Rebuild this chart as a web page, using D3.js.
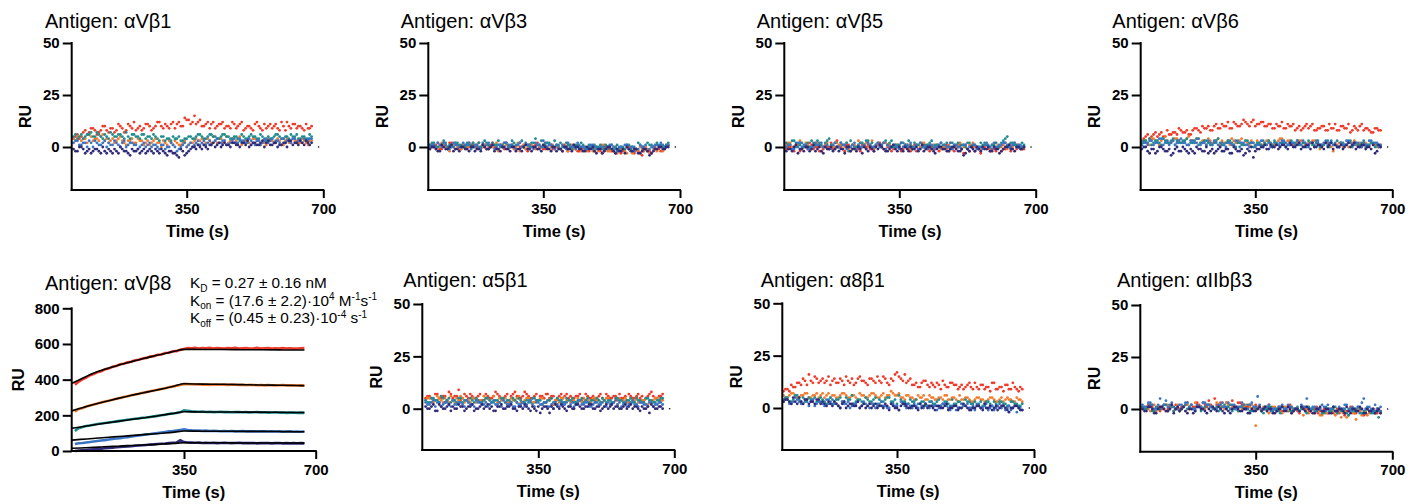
<!DOCTYPE html>
<html><head><meta charset="utf-8">
<script src="https://cdn.jsdelivr.net/npm/d3@7"></script>
<style>
body{margin:0;background:#fff;}
svg text{font-family:"Liberation Sans",Arial,sans-serif;fill:#000;}
</style></head><body>
<svg id="c" width="1410" height="504"></svg>
<script>
// ---------- data ----------
const times = [60,70,80,90,100,110,120,130,140,150,160,170,180,190,200,210,220,230,240,250,260,270,280,290,300,310,320,330,340,350,360,370,379,389,399,409,418,428,438,447,457,467,477,486,496,506,515,525,535,544,554,564,574,583,593,603,612,622,632,641,651,661,670];
const times2 = [65,75,85,95,105,115,125,135,145,155,165,175,185,195,205,215,225,235,245,255,265,275,285,295,305,315,325,335,345,355,365,374,384,394,404,413,423,433,442,452,462,472,481,491,501,510,520,530,539,549,559,569,578,588,598,607,617,627,636,646,656,665];
const seriesColors = ["#ef3a2a","#f47a2c","#1f8c8e","#3c74c4","#2f2b79"];
const antigens = ["αVβ1","αVβ3","αVβ5","αVβ6","αVβ8","α5β1","α8β1","αIIbβ3"];
const ruTicks = [0,25,50];
const ruTicksVB8 = [0,200,400,600,800];
const timeTicks = [350,700];
const endDot = [688,0];

const avb1 = [
 [4,6,5,8,7,9,6,8,10,7,9,8,10,7,11,9,8,10,9,11,8,10,12,9,10,11,9,12,10,13,11,15,12,10,11,9,12,10,11,9,10,12,9,11,8,10,9,11,10,8,9,11,10,9,12,8,10,11,9,10,8,9,10],
 [4,5,3,4,6,3,4,5,3,2,4,3,5,2,3,4,2,3,1,3,2,4,2,3,1,2,3,1,2,0,2,3,1,4,2,3,5,2,4,3,2,4,3,5,2,3,1,4,3,2,1,3,2,4,1,3,2,4,3,2,3,1,3],
 [5,4,6,5,6,5,7,5,6,4,6,5,6,4,5,6,5,4,6,5,4,5,3,5,4,3,4,5,3,4,5,4,6,5,4,6,5,4,5,6,5,4,5,3,5,4,6,5,4,5,3,4,5,6,4,5,4,5,6,4,5,4,5],
 [2,3,1,2,3,0,2,1,3,2,1,2,0,3,1,2,1,0,2,1,0,1,-1,1,0,2,0,-1,1,0,2,1,3,2,1,3,2,4,2,3,1,3,2,4,3,2,3,1,3,2,4,3,2,3,4,2,3,4,2,3,4,3,4],
 [-1,-2,0,-3,-1,-2,-1,-3,-2,-1,-3,-2,0,-2,-3,-1,-2,-3,-1,-2,-2,-1,-3,-2,-4,-2,-3,-5,-2,-3,-1,0,1,-1,0,1,2,1,0,2,1,2,1,0,2,3,1,2,1,3,2,1,2,0,1,2,3,1,2,3,1,2,2]
];
const avb1b = [
 [5,4,7,6,9,8,7,10,8,9,7,11,9,8,10,12,9,8,11,10,9,12,10,11,9,12,11,10,14,13,12,11,13,10,12,11,9,11,12,10,9,11,10,12,9,10,8,12,9,11,10,9,11,8,10,12,9,11,10,9,11,9],
 [3,5,4,2,5,4,3,6,4,3,2,4,3,1,3,2,4,3,2,1,3,2,0,2,3,1,2,1,3,1,2,4,3,1,4,2,3,4,2,5,3,2,4,1,3,2,4,3,1,2,4,3,2,3,1,4,2,3,2,4,2,3],
 [6,5,4,6,7,5,6,4,5,7,5,6,5,7,4,6,5,6,4,5,6,4,5,3,4,5,4,3,4,5,4,5,6,4,5,6,5,4,6,5,4,5,4,6,4,5,5,4,6,4,5,4,6,5,4,5,6,5,4,5,4,6],
 [3,1,2,0,2,3,1,2,0,1,3,1,2,0,2,1,-1,1,0,2,1,0,1,-1,0,1,-2,0,2,1,0,2,1,3,2,1,3,2,3,1,2,4,2,3,2,4,2,3,1,3,2,4,3,2,4,3,2,4,3,2,3,4],
 [-2,0,-1,-2,-3,-1,-2,0,-3,-2,-1,-3,-1,-2,-4,-2,-1,-2,-3,-1,-3,-2,-1,-3,-2,-3,-4,-1,-4,-2,0,-1,0,1,-1,1,0,2,1,1,0,2,1,2,1,0,2,1,2,0,3,1,2,1,2,0,3,2,1,2,3,1]
];
const avb3 = [
 [1,0,2,-1,1,2,0,1,-1,0,2,1,0,-1,1,0,2,0,1,-1,0,1,-1,0,1,-2,0,1,0,-1,0,1,-1,0,-2,0,1,-1,-2,0,-1,-2,-1,0,-2,-1,0,-2,-3,-1,-2,0,-1,-3,-2,-4,-1,-2,0,-1,-2,0,1],
 [0,1,-1,2,0,-2,1,0,-1,1,0,2,-1,0,1,-1,0,2,1,0,-1,1,0,-2,1,0,1,-1,0,1,2,0,-1,0,1,-1,0,-1,1,-2,0,-1,-2,0,-1,1,-2,-1,0,-2,-1,-3,0,-1,-2,-1,0,-3,-1,-2,0,-1,1],
 [1,2,0,1,2,1,0,2,1,0,1,2,1,0,3,1,2,1,0,2,1,3,1,2,0,1,2,4,1,0,2,1,3,1,0,2,1,0,1,2,0,1,-1,0,1,0,-1,1,0,-1,0,1,-1,0,2,0,-1,1,0,2,1,0,2],
 [0,1,2,0,1,-1,2,1,0,1,2,0,1,-1,0,2,1,0,1,2,0,1,-1,2,0,1,0,2,1,3,0,1,-1,0,1,-1,0,1,2,0,-1,0,1,-1,0,-2,0,1,-1,0,-1,1,0,-2,-1,0,1,-1,0,1,2,0,1],
 [-1,0,-2,1,-1,0,-2,-1,0,-1,-2,0,-1,-2,0,-1,1,-1,-2,0,-1,0,-2,-1,0,-1,-2,0,-1,1,-1,-2,0,-1,-2,0,-1,1,0,-1,-2,-1,0,-3,-1,-2,0,-1,-3,-2,-1,0,-2,-1,-3,-2,-1,-4,-2,-1,0,-1,0]
];
const avb3b = [
 [0,1,-1,1,0,2,-1,0,1,-1,1,0,2,0,-1,1,0,-1,1,2,0,-1,1,0,-1,1,0,2,0,-1,1,-1,0,-1,1,-2,0,-1,-2,0,-1,0,-2,-1,-3,0,-1,-2,-1,-3,-1,0,-2,-1,-3,-2,-1,-3,0,-1,0,1],
 [1,-1,0,1,-1,0,2,-1,1,0,-1,1,2,0,-1,0,1,-2,0,1,0,-1,2,0,-1,1,0,-1,0,2,-1,1,0,-1,0,-2,1,-1,0,-1,-2,0,-1,-2,1,-1,-2,0,-3,-1,-2,-1,-3,-2,0,-2,-1,-3,-1,0,-2,0],
 [2,0,1,3,0,1,2,1,0,2,1,0,2,1,2,0,1,3,1,2,0,2,1,3,1,0,2,1,3,1,2,0,1,2,0,1,-1,1,0,1,-1,0,1,0,-1,1,0,-1,1,0,-1,1,0,-1,1,0,2,1,-1,1,0,1],
 [1,0,1,2,-1,0,1,0,2,1,-1,1,0,2,1,0,-1,1,0,2,1,0,1,0,2,1,-1,1,0,2,1,0,1,-1,0,2,0,-1,1,0,-1,1,0,-1,0,-1,1,0,-2,0,1,-1,0,-1,1,0,-2,0,1,0,1,0],
 [0,-1,-2,0,-1,1,-1,-2,0,-1,0,-2,-1,1,-1,0,-2,-1,0,-1,-2,0,-1,-2,1,-1,0,-1,-2,0,-1,0,-2,-1,0,-1,-2,0,-1,-2,0,-1,-2,-1,-3,-1,0,-2,-1,-2,-3,-1,-2,-1,-3,-1,-2,-3,-1,0,-1,0]
];
const avb5 = [
 [-1,0,-2,1,-1,0,2,-1,0,-2,1,0,-1,3,0,-2,1,-1,0,-2,0,1,-1,0,2,-1,0,-2,1,0,-1,0,-2,1,-1,0,-1,-2,0,1,-1,0,-2,-1,0,1,-3,-1,0,-2,-1,0,1,-2,-1,0,-2,-1,0,1,-1,0,-1],
 [1,2,0,1,-1,2,0,1,2,0,1,-1,0,2,1,0,-1,1,0,2,1,0,3,1,0,2,1,0,-1,1,0,1,-1,0,1,2,0,-1,1,0,-1,0,1,-1,0,2,0,-1,1,0,-1,0,1,-1,0,1,0,2,1,0,1,-1,0],
 [2,1,3,0,2,1,0,2,3,1,2,4,1,0,2,1,-2,1,0,2,1,3,2,1,0,2,1,3,0,1,2,0,1,2,1,0,1,2,0,1,2,1,0,2,1,0,1,2,0,1,0,1,2,0,1,0,2,4,1,2,1,0,1],
 [0,1,-1,2,0,1,-1,0,1,2,0,-1,1,0,2,1,0,1,-1,0,1,2,0,1,0,2,1,0,1,-1,0,1,2,0,-1,1,0,1,-1,0,2,1,0,-1,1,0,1,-1,0,1,0,-1,1,0,2,0,1,2,0,1,0,1,0],
 [-2,-1,0,-3,-1,0,-2,1,-1,-2,0,-1,-2,0,-1,-3,0,-1,-2,-1,0,-2,-1,0,1,-1,-2,0,-1,0,-2,-1,0,-1,-2,1,-1,0,-2,-1,0,-1,-2,0,-1,-2,-4,-1,0,-2,-1,0,-1,-2,0,-1,-2,0,1,-1,0,-1,0]
];
const avb5b = [
 [0,-1,1,-2,0,-1,1,0,-2,-1,0,2,-1,0,-1,1,-2,0,-1,1,0,-1,-2,1,0,-1,1,-1,0,-2,1,-1,0,-2,0,1,-1,0,-1,-2,0,1,-1,-2,0,-1,1,-2,0,-1,-3,0,-1,1,-2,0,-1,0,-2,1,0,-1],
 [2,0,1,3,0,1,-1,2,1,0,2,1,0,1,-1,2,0,1,3,0,2,1,-1,1,0,2,1,0,1,2,0,1,-1,1,0,2,1,-1,0,1,0,-1,2,0,1,-1,0,1,2,0,-1,1,0,-1,2,0,1,-1,0,2,1,0],
 [1,3,2,1,0,2,3,1,2,0,3,1,2,0,1,2,3,0,1,2,3,1,0,2,1,3,2,0,1,2,1,3,0,1,2,0,1,3,1,0,1,2,0,1,2,1,0,2,1,0,2,1,0,1,2,0,3,5,2,1,0,2],
 [1,-1,0,2,1,-1,0,2,1,0,1,-1,2,0,1,-1,0,2,1,0,-1,1,0,2,1,-1,0,1,0,2,1,0,-1,1,2,0,-1,1,0,1,-1,0,2,1,0,-1,1,0,1,-1,0,2,1,-1,0,1,2,1,0,2,1,0],
 [-1,-2,1,-1,-2,0,-1,-2,0,-3,-1,0,-1,-2,-1,0,-2,-1,0,-3,-1,0,-2,-1,0,-2,-1,1,-2,-1,0,-2,-1,0,-1,-2,0,-1,-3,0,-1,-2,-1,0,-2,-1,-3,-2,-1,0,-2,-1,0,-2,-1,-3,-1,0,-1,-2,0,-1]
];
const avb6 = [
 [3,5,4,6,5,7,5,6,7,6,8,7,6,8,9,7,9,10,8,11,9,10,12,9,11,10,13,11,12,10,11,12,10,11,9,10,12,9,10,11,9,8,10,9,11,8,9,10,8,9,11,8,10,9,7,10,8,11,9,8,7,9,8],
 [2,3,1,4,2,3,5,2,3,4,2,3,5,3,4,2,3,4,2,3,1,2,3,4,2,3,1,2,3,0,2,1,3,2,1,3,4,2,3,1,2,3,1,2,3,2,-1,1,2,0,1,2,0,1,2,3,1,0,2,1,2,0,1],
 [2,3,4,2,3,1,3,2,4,3,2,3,1,2,4,2,3,2,1,3,2,1,3,2,0,2,1,3,2,1,2,0,1,2,3,1,2,0,1,2,3,1,2,3,1,2,0,1,3,2,1,0,2,1,3,2,1,2,0,1,2,1,0],
 [1,2,3,1,2,4,2,1,3,2,4,2,1,3,2,1,2,3,1,2,0,1,2,1,3,0,2,1,2,0,1,3,1,0,2,1,3,2,1,2,3,1,2,0,2,3,1,2,1,3,2,0,1,3,2,1,2,0,1,3,1,2,1],
 [-1,0,-3,-1,-2,0,-2,-1,-3,0,-2,-1,-3,-2,0,-1,-2,-3,-1,-2,0,-2,-1,-3,-1,-2,-4,-1,0,-2,-1,0,-1,1,0,-1,1,0,2,0,1,-1,0,1,2,0,1,-1,0,2,1,0,-1,1,0,2,0,1,-1,0,1,-2,0]
];
const avb6b = [
 [4,6,5,7,6,5,8,6,7,9,7,8,6,9,8,10,9,8,10,9,11,10,9,12,10,11,12,10,13,11,12,10,11,9,11,10,9,11,10,8,10,9,11,10,8,9,10,8,11,9,8,10,9,11,8,9,10,8,9,7,9,8],
 [3,2,4,3,1,4,3,2,4,3,2,4,3,2,4,3,1,3,2,4,3,2,1,3,2,4,3,1,2,3,1,2,3,1,2,4,2,3,2,1,3,2,1,2,3,1,0,2,1,-2,1,2,1,0,2,1,2,1,0,2,1,0],
 [3,2,1,3,2,4,2,3,1,2,3,4,2,3,1,2,3,1,2,4,1,2,3,1,2,1,3,2,0,2,1,2,3,1,2,0,2,1,3,2,1,2,0,2,1,3,1,2,0,1,3,2,1,2,0,2,1,3,1,2,0,1],
 [2,1,3,2,4,1,3,2,1,3,2,1,3,2,4,2,1,2,3,1,2,0,2,1,3,2,1,0,2,1,3,1,2,0,1,2,3,1,2,1,2,3,1,2,0,2,1,3,2,1,0,2,1,3,1,2,0,2,1,3,2,0],
 [0,-2,-1,-3,0,-1,-2,-4,-1,-2,0,-2,-1,-3,-1,-2,0,-2,-3,-1,-2,-1,-3,0,-2,-1,-3,-2,-5,-1,0,1,-1,0,1,0,1,-1,1,0,2,0,1,-1,0,1,0,2,1,-1,0,1,0,2,1,-1,0,1,0,-1,-3,1]
];
const a5b1 = [
 [5,6,4,7,5,6,8,5,6,4,7,5,6,5,7,4,6,5,8,6,5,7,6,8,5,6,7,5,6,4,6,7,5,6,5,7,6,5,4,6,7,5,6,5,4,6,5,7,5,6,4,5,6,7,5,6,5,4,6,8,5,6,7],
 [4,5,3,6,4,5,3,4,5,6,3,4,5,3,4,6,5,3,4,5,4,3,5,4,6,3,5,4,3,4,5,3,4,2,4,5,3,4,5,3,4,5,4,3,5,4,3,5,4,3,2,4,5,3,4,5,3,4,2,4,5,3,4],
 [4,3,5,4,6,3,5,4,3,5,4,3,4,5,3,4,5,3,4,3,5,4,3,4,5,3,4,3,5,4,2,3,4,3,5,4,3,4,5,3,4,3,5,4,3,4,5,3,4,3,5,4,3,4,3,5,4,3,5,4,3,4,5],
 [3,2,4,3,1,3,2,4,2,3,1,3,2,4,3,2,1,3,2,3,4,2,3,1,2,3,2,4,1,3,2,3,1,0,2,3,2,1,3,2,4,2,3,1,3,2,3,1,2,3,2,1,3,2,4,2,3,2,1,3,2,3,2],
 [1,0,2,-1,1,0,2,1,0,1,-1,1,2,0,1,0,2,1,-1,1,0,1,2,0,1,0,1,-1,0,1,0,1,-2,0,1,2,0,1,0,2,1,0,1,2,0,1,0,2,1,0,1,0,2,1,0,1,-1,0,1,2,0,1,0]
];
const a5b1b = [
 [6,5,7,5,6,4,7,6,9,5,6,7,5,6,4,7,5,6,7,5,6,4,7,6,5,8,6,5,7,6,5,7,6,4,6,5,7,6,5,6,4,7,5,6,5,7,4,6,5,6,7,5,4,6,5,7,6,5,7,6,5,6],
 [5,3,4,5,3,4,6,3,4,5,4,3,5,4,3,5,4,6,3,4,5,3,4,5,3,4,5,3,4,5,3,4,5,4,3,5,4,3,4,5,3,4,3,5,4,2,4,5,3,4,5,4,3,5,4,3,4,5,3,4,5,4],
 [3,5,4,3,5,4,3,4,5,3,4,5,3,4,3,5,4,3,4,5,3,4,5,3,4,3,4,5,3,4,3,4,5,3,4,3,5,4,3,4,5,4,3,4,5,3,4,4,3,5,4,3,4,5,3,4,3,5,4,3,4,5],
 [2,3,1,3,2,3,1,2,3,2,4,2,1,3,2,3,2,4,2,1,3,2,1,3,2,1,3,2,4,2,3,1,2,3,1,2,3,2,1,3,2,3,1,2,3,2,1,3,2,4,3,2,1,3,2,1,3,2,3,1,2,3],
 [0,1,-1,2,0,1,-1,0,2,1,0,1,-1,0,2,1,0,-1,1,2,0,1,0,-1,1,2,0,1,-1,-2,1,0,1,2,0,1,-1,1,0,2,0,1,2,0,1,-1,1,0,2,1,0,1,0,2,1,0,1,0,-2,1,0,1]
];
const a8b1 = [
 [8,9,11,10,12,14,11,13,15,12,14,13,11,14,12,13,15,12,11,14,13,12,14,13,15,12,14,11,13,17,14,16,13,11,12,10,13,11,12,10,11,13,10,12,11,9,11,10,12,9,10,11,9,10,12,9,10,8,11,9,10,8,9],
 [6,5,7,6,5,6,7,5,6,5,7,6,5,6,5,7,6,5,6,4,6,5,6,7,5,6,5,6,7,6,5,4,6,5,4,5,6,4,5,4,5,4,6,4,5,3,4,5,4,3,5,4,3,4,5,3,4,3,5,4,3,4,3],
 [4,5,3,6,4,5,3,4,5,3,4,2,5,3,4,3,5,4,2,4,3,5,3,4,2,3,4,5,3,2,4,3,2,3,4,2,3,1,3,2,4,2,3,1,2,3,2,4,3,2,1,3,2,3,1,2,3,2,1,3,2,1,2],
 [3,4,2,5,3,2,4,3,1,3,2,4,3,2,1,3,2,0,2,3,1,2,0,2,1,3,1,0,2,1,3,1,2,0,1,2,0,1,3,1,0,2,1,-1,1,0,2,1,0,1,2,0,1,-1,1,0,2,1,0,-1,1,0,-1],
 [3,4,2,3,5,2,4,3,2,4,3,1,2,3,1,2,0,2,1,3,1,0,2,1,0,1,2,-1,1,0,1,2,0,1,0,2,1,0,1,-1,1,0,2,0,1,-1,0,1,-1,0,1,0,2,0,-1,1,0,1,-1,0,1,0,-1]
];
const a8b1b = [
 [9,8,10,12,11,13,16,12,14,13,12,15,13,12,14,11,13,14,12,15,13,11,14,12,13,15,12,14,16,15,13,12,14,11,10,12,13,10,11,12,9,11,10,12,11,10,9,11,10,12,9,11,10,8,12,9,10,11,9,12,9,10],
 [5,6,7,5,6,7,5,6,7,6,5,7,6,5,6,7,5,6,5,7,6,5,7,6,5,7,6,8,6,7,5,6,5,4,6,5,4,6,5,4,5,6,4,5,4,6,4,5,3,4,5,4,3,5,4,3,5,4,4,3,5,4],
 [5,3,4,6,3,4,5,4,3,5,3,4,2,4,5,3,4,6,3,4,2,4,3,5,4,3,5,3,4,6,3,2,4,3,2,3,1,3,2,3,1,3,2,4,2,3,1,3,2,3,2,1,3,2,3,1,3,2,1,3,2,1],
 [4,2,3,4,2,3,1,4,2,3,1,2,4,2,0,2,3,1,2,0,3,1,2,0,2,1,0,2,1,-1,2,0,1,2,0,1,2,0,1,-1,1,2,0,1,-1,0,1,2,0,-1,1,0,2,0,-1,1,0,-1,1,0,-2,0],
 [4,3,5,2,3,4,2,3,4,2,2,3,1,2,0,3,1,2,1,0,2,1,0,2,1,0,1,2,0,-1,2,1,0,1,-1,0,2,1,0,1,0,1,-1,0,1,0,2,0,-1,0,1,-1,0,1,0,-1,1,0,-2,0,1,-1]
];
const aIIbb3 = [
 [1,0,2,-1,1,0,2,1,-1,0,1,2,0,1,3,1,2,4,1,2,3,1,2,4,1,3,2,1,0,2,1,0,1,-1,0,1,-1,0,2,0,-1,1,0,-1,0,1,-1,0,-2,0,-1,-2,0,-1,1,-2,-1,0,-2,-1,0,-2,-1],
 [0,1,-1,2,0,1,-1,0,1,2,0,-1,1,0,2,1,0,2,1,3,1,0,2,1,0,-1,1,0,2,-8,0,1,-1,0,1,0,-2,1,0,-1,0,1,-1,-2,0,-1,-3,-1,-2,0,-3,-1,-2,-4,-1,-2,0,-3,-1,-2,-1,0,-2],
 [1,0,2,-1,0,1,2,0,-1,1,0,2,1,0,1,-1,1,2,0,1,0,2,1,-1,0,1,0,2,-1,0,1,-2,0,1,0,-1,1,0,-1,0,1,0,-1,1,0,-1,0,-2,0,-1,1,0,-1,-2,0,-1,1,-2,0,-1,-2,0,-1],
 [2,1,3,0,2,1,4,2,1,0,2,3,1,0,2,1,3,2,1,0,2,1,3,2,0,1,2,0,3,1,2,0,1,-1,0,1,2,0,1,-1,0,2,1,0,1,-1,0,1,2,0,-1,1,0,2,-1,0,1,3,0,1,-1,0,1],
 [0,-1,1,-2,0,1,-1,0,-2,1,0,-1,0,-2,1,0,-1,0,1,-1,0,-2,-1,0,1,-1,0,-2,0,-1,1,0,-1,0,-2,0,1,-1,0,-1,0,1,-1,0,-2,0,1,-1,0,-2,-1,0,-1,1,-2,0,-1,0,-2,-1,0,-1,-2]
];
const aIIbb3b = [
 [0,2,1,0,-1,2,0,1,2,0,1,3,2,1,2,3,1,2,5,2,1,3,2,1,3,2,1,2,0,1,-1,0,2,0,-1,1,0,-1,1,0,-2,0,1,-1,0,-2,-1,0,-1,-2,0,-1,-3,-1,0,-2,-1,-3,0,-1,-2,0],
 [1,0,2,-1,1,0,2,1,0,-1,1,2,0,3,1,0,2,1,0,2,1,3,0,1,-1,0,2,1,0,1,-1,0,-2,1,0,-1,1,-1,-2,0,-1,-3,0,-1,-2,-1,-3,-2,0,-1,-2,-4,-1,-3,-2,-5,-1,-2,-3,-1,-2,-1],
 [0,1,-1,1,0,2,-1,1,0,-1,1,0,2,-1,1,0,2,1,0,-1,1,0,2,0,-1,1,0,-1,1,0,-1,0,1,-1,0,-2,0,1,-1,0,-1,1,-2,0,-1,0,-2,1,-1,0,-2,-1,0,-3,-1,0,-2,-1,0,-2,-1,-4],
 [1,3,2,0,5,2,1,3,0,2,1,3,2,0,1,3,2,1,0,2,3,1,0,2,1,3,0,2,1,6,0,1,2,0,-1,1,0,2,1,0,-1,1,5,0,1,0,2,-1,0,1,-1,0,2,0,1,-1,0,5,1,0,2,-1],
 [-1,1,0,-2,1,0,-1,2,0,-1,1,-2,0,-1,1,0,-2,-1,0,1,-1,0,-2,1,0,-1,0,-2,-1,0,-1,1,0,-2,-1,0,-1,1,-2,0,-1,0,1,-1,-2,0,-1,0,-2,1,-1,0,-2,-1,0,-1,1,-2,0,-1,-2,0]
];
// αVβ8 sensorgram data (RU), same time points as `times`
const avb8 = [
 [372,388,402,411,425,431,442,447,458,462,472,476,486,489,497,500,509,512,519,522,529,532,539,541,549,551,559,560,567,572,577,576,578,575,577,576,578,575,577,576,574,577,576,578,575,576,577,575,576,578,574,576,577,575,576,574,577,575,576,574,575,576,577],
 [220,236,240,249,255,261,266,272,277,282,287,293,297,303,307,312,317,321,326,330,335,339,343,348,352,357,361,366,370,376,375,374,373,374,372,373,371,373,372,371,372,370,372,371,370,371,369,371,370,369,370,368,370,369,368,369,370,368,369,368,367,369,368],
 [112,128,135,140,143,147,151,154,157,160,163,166,169,172,175,178,181,183,186,188,191,194,197,200,203,207,210,213,217,228,225,222,221,220,221,219,220,218,219,220,218,219,217,218,219,217,218,216,217,218,216,217,215,216,217,215,216,214,215,216,214,215,214],
 [39,43,45,48,50,53,56,59,61,64,67,70,72,76,78,81,84,87,90,93,95,98,101,104,107,110,112,115,118,121,118,116,115,114,113,114,112,113,112,111,112,111,112,110,111,112,110,111,110,109,110,111,109,110,109,110,108,109,110,108,109,108,109],
 [0,2,4,6,8,10,12,13,15,17,19,21,22,24,26,27,29,31,32,34,36,37,39,41,42,44,46,47,60,50,48,47,46,47,45,46,45,46,44,45,46,45,44,45,46,44,45,44,45,43,44,45,44,43,44,45,43,44,43,44,43,44,43]
];
const fitTimes = [52,75,100,125,150,175,200,225,250,275,300,325,350,400,450,500,550,600,650,670];
const avb8Fit = [
 [379,402,428,448,465,481,495,509,522,535,547,559,570,569,569,568,568,567,566,566],
 [225,240,255,269,282,295,307,319,330,341,352,364,377,375,374,372,370,369,367,366],
 [127,135,143,151,159,166,174,181,188,195,204,212,220,219,219,218,218,217,216,216],
 [61,65,69,73,77,81,85,89,93,97,101,106,112,111,111,110,110,109,108,108],
 [15,17,20,22,25,27,30,32,35,37,40,43,46,46,46,45,45,45,45,44]
];

// ---------- layout ----------
const svg = d3.select("#c");
const FONT = '"Liberation Sans", Arial, sans-serif';
const layouts = [
 {x0:71.7,  x350:186.7, x700:323.3, yTop:43,    y0:147,   axisY:190,   tx:45,     ty:28},
 {x0:428.3, x350:543.3, x700:680,   yTop:43,    y0:147,   axisY:190,   tx:400.7,  ty:28},
 {x0:784.3, x350:899.3, x700:1035.7,yTop:43,    y0:147,   axisY:190,   tx:756.7,  ty:28},
 {x0:1140.7,x350:1255.3,x700:1392.3,yTop:43,    y0:147,   axisY:190,   tx:1112.3, ty:28},
 {x0:71.7,  x350:184,   x700:315.7, yTop:308.3, y0:451,   axisY:451,   tx:45,     ty:290},
 {x0:422.3, x350:538.3, x700:674.3, yTop:304,   y0:408.7, axisY:450,   tx:403.3,  ty:286.7},
 {x0:782.3, x350:897,   x700:1034,  yTop:303.3, y0:408,   axisY:450,   tx:760.7,  ty:286.7},
 {x0:1140.3,x350:1255.7,x700:1392.3,yTop:305,   y0:409,   axisY:451.7, tx:1117,   ty:287}
];
const scatterA = [avb1, avb3, avb5, avb6, null, a5b1, a8b1, aIIbb3];
const scatterB = [avb1b, avb3b, avb5b, avb6b, null, a5b1b, a8b1b, aIIbb3b];

function drawFrame(g, L, pi, x, y, yTicks, rLabelDx){
  const ya = g.append("g").attr("transform",`translate(${L.x0},0)`)
    .call(d3.axisLeft(y).tickValues(yTicks).tickSize(9).tickPadding(3).tickFormat(d3.format("d")));
  ya.select(".domain").remove();
  ya.selectAll(".tick line").attr("stroke","#000").attr("stroke-width",2);
  ya.selectAll(".tick text").attr("font-family",FONT).attr("font-size",15).attr("font-weight","bold").attr("fill","#000");
  g.append("line").attr("x1",L.x0).attr("x2",L.x0).attr("y1",L.yTop).attr("y2",L.axisY)
    .attr("stroke","#000").attr("stroke-width",2).attr("stroke-linecap","square");
  const xa = g.append("g").attr("transform",`translate(0,${L.axisY})`)
    .call(d3.axisBottom(x).tickValues(timeTicks).tickSize(8).tickPadding(5).tickFormat(d3.format("d")));
  xa.select(".domain").remove();
  xa.selectAll(".tick line").attr("stroke","#000").attr("stroke-width",2);
  xa.selectAll(".tick text").attr("font-family",FONT).attr("font-size",15).attr("font-weight","bold").attr("fill","#000");
  g.append("line").attr("x1",L.x0).attr("x2",L.x700).attr("y1",L.axisY).attr("y2",L.axisY)
    .attr("stroke","#000").attr("stroke-width",2).attr("stroke-linecap","square");
  g.append("text").attr("x",(L.x0+L.x700)/2).attr("y",L.axisY+46.5).attr("text-anchor","middle")
    .attr("font-size",16.5).attr("font-weight","bold").text("Time (s)");
  const cy = (L.yTop+L.axisY)/2;
  g.append("text").attr("transform",`translate(${L.x0-rLabelDx},${cy}) rotate(-90)`)
    .attr("text-anchor","middle").attr("dy","0.36em").attr("font-size",16).attr("font-weight","bold").text("RU");
  g.append("text").attr("x",L.tx).attr("y",L.ty).attr("font-size",20).text("Antigen: "+antigens[pi]);
}

layouts.forEach((L,pi)=>{
  const g = svg.append("g");
  const x = d3.scaleLinear().domain([350,700]).range([L.x350,L.x700]);
  if(pi!==4){
    const y = d3.scaleLinear().domain([0,50]).range([L.y0,L.yTop]);
    scatterA[pi].forEach((vals,si)=>{
      const pts = vals.map((v,i)=>[times[i],v])
        .concat(scatterB[pi][si].map((v,i)=>[times2[i],v]));
      g.append("g").selectAll("circle").data(pts).join("circle")
        .attr("cx",d=>x(d[0])).attr("cy",d=>y(d[1])).attr("r",1.4).attr("fill",seriesColors[si]);
    });
    g.append("circle").attr("cx",x(endDot[0])).attr("cy",y(endDot[1])).attr("r",0.8).attr("fill","#000");
    drawFrame(g,L,pi,x,y,ruTicks,46);
  } else {
    const y = d3.scaleLinear().domain([0,800]).range([L.y0,L.yTop]);
    const line = d3.line().x(d=>x(d[0])).y(d=>y(d[1]));
    avb8.forEach((vals,si)=>{
      g.append("path").attr("d",line(vals.map((v,i)=>[times[i],v])))
        .attr("fill","none").attr("stroke",seriesColors[si]).attr("stroke-width",2.6);
    });
    const fline = d3.line().curve(d3.curveMonotoneX).x(d=>x(d[0])).y(d=>y(d[1]));
    avb8Fit.forEach(vals=>{
      g.append("path").attr("d",fline(vals.map((v,i)=>[fitTimes[i],v])))
        .attr("fill","none").attr("stroke","#000").attr("stroke-width",1.6);
    });
    drawFrame(g,L,pi,x,y,ruTicksVB8,53);
    const rows = [
      [["K",0],["D",1],[" = 0.27 ± 0.16 nM",0]],
      [["K",0],["on",1],[" = (17.6 ± 2.2)·10",0],["4",2],[" M",0],["-1",2],["s",0],["-1",2]],
      [["K",0],["off",1],[" = (0.45 ± 0.23)·10",0],["-4",2],[" s",0],["-1",2]]
    ];
    const ys = [288,305.5,323];
    rows.forEach((r,ri)=>{
      const tx = g.append("text").attr("x",190).attr("y",ys[ri]).attr("font-size",15.3);
      let prev = 0;
      r.forEach(([s,k])=>{
        const cur = k===1 ? 3.5 : (k===2 ? -5.5 : 0);
        const sp = tx.append("tspan").text(s).attr("dy",cur-prev);
        if(k!==0) sp.attr("font-size",10);
        prev = cur;
      });
    });
  }
});
</script>
</body></html>
